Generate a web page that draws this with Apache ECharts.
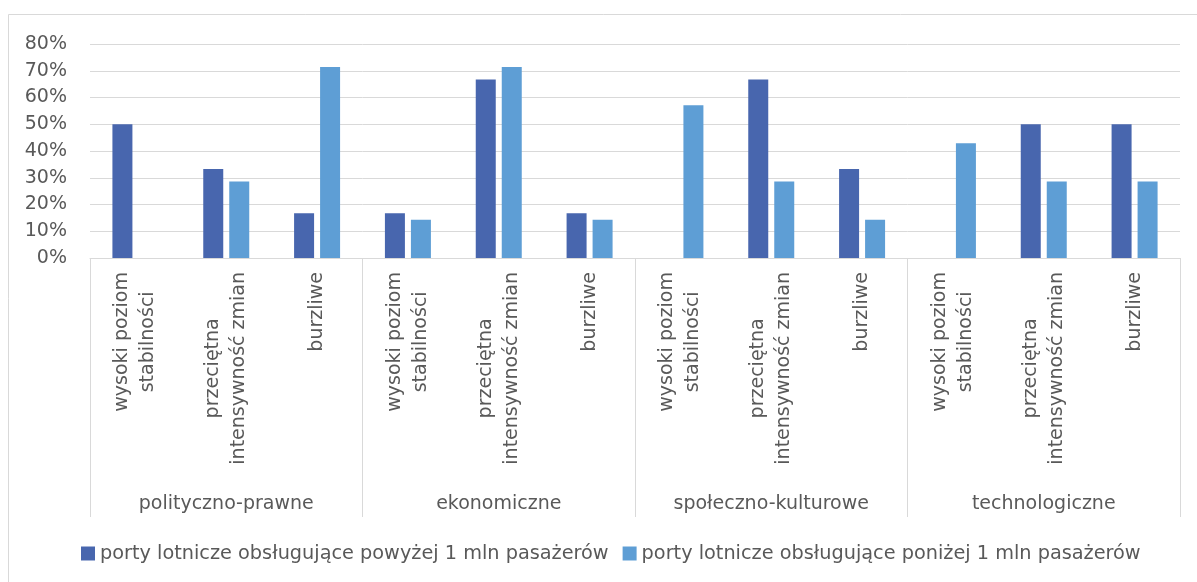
<!DOCTYPE html>
<html>
<head>
<meta charset="utf-8">
<script src="https://cdn.jsdelivr.net/npm/echarts@6/dist/echarts.min.js"></script>
<style>
html,body{margin:0;padding:0;background:#fff;}
#chart{width:1197px;height:582px;}
</style>
</head>
<body>
<div id="chart"></div>
<script>
const groups = ['polityczno-prawne', 'ekonomiczne', 'społeczno-kulturowe', 'technologiczne'];
const subcats = ['wysoki poziom\nstabilności', 'przeciętna\nintensywność zmian', 'burzliwe'];
const seriesNames = ['porty lotnicze obsługujące powyżej 1 mln pasażerów', 'porty lotnicze obsługujące poniżej 1 mln pasażerów'];
const above1mln = [50, 33.3, 16.7, 16.7, 66.7, 16.7, 0, 66.7, 33.3, 0, 50, 50];
const below1mln = [0, 28.6, 71.4, 14.3, 71.4, 14.3, 57.1, 28.6, 14.3, 42.9, 28.6, 28.6];
const yTicks = [0, 10, 20, 30, 40, 50, 60, 70, 80];

const categories = [];
groups.forEach(g => subcats.forEach(s => categories.push(g + '|' + s)));

const FONT = 'DejaVu Sans';
const FS = 19;
const TXT = '#595959';
const GRID = '#d9d9d9';

const chart = echarts.init(document.getElementById('chart'));
chart.setOption({
  backgroundColor: '#fff',
  animation: false,
  textStyle: { fontFamily: FONT },
  graphic: [{
    type: 'rect',
    shape: { x: 8.5, y: 14.5, width: 1200, height: 600 },
    style: { fill: 'none', stroke: GRID, lineWidth: 1 },
    silent: true
  }],
  grid: { left: 90, right: 17, top: 44, bottom: 324, containLabel: false },
  legend: {
    top: 544,
    left: 81,
    padding: 0,
    itemWidth: 14,
    itemHeight: 14,
    itemGap: 14,
    icon: 'rect',
    textStyle: { color: TXT, fontSize: 19.3, fontFamily: FONT },
    data: seriesNames
  },
  xAxis: [{
    type: 'category',
    data: categories,
    position: 'bottom',
    axisLine: { show: true, lineStyle: { color: GRID, width: 1 } },
    axisTick: { show: false },
    axisLabel: {
      interval: 0,
      rotate: 90,
      margin: 14,
      color: TXT,
      fontSize: FS,
      fontFamily: FONT,
      formatter: function (v, i) {
        return subcats[i % 3].split('\n').map(l => '{c|' + l + '}').join('\n');
      },
      rich: { c: { align: 'center', fontSize: FS, lineHeight: 26, color: TXT, fontFamily: FONT } }
    }
  }, {
    type: 'category',
    data: groups,
    position: 'bottom',
    axisLine: { show: false },
    axisTick: { show: true, length: 259, lineStyle: { color: GRID, width: 1 } },
    axisLabel: { interval: 0, margin: 237, color: TXT, fontSize: FS, fontFamily: FONT }
  }],
  yAxis: {
    type: 'value',
    min: 0,
    max: 80,
    interval: 10,
    axisLine: { show: false },
    axisTick: { show: false },
    splitLine: { lineStyle: { color: GRID, width: 1 } },
    axisLabel: {
      margin: 23,
      color: TXT,
      fontSize: FS,
      fontFamily: FONT,
      formatter: function (v) { return yTicks.indexOf(v) >= 0 ? v + '%' : ''; }
    }
  },
  series: [{
    name: seriesNames[0],
    type: 'bar',
    xAxisIndex: 0,
    data: above1mln,
    barWidth: 20,
    barGap: '30%',
    itemStyle: { color: '#4866ae' }
  }, {
    name: seriesNames[1],
    type: 'bar',
    xAxisIndex: 0,
    data: below1mln,
    barWidth: 20,
    barGap: '30%',
    itemStyle: { color: '#5e9ed5' }
  }]
});
</script>
</body>
</html>
